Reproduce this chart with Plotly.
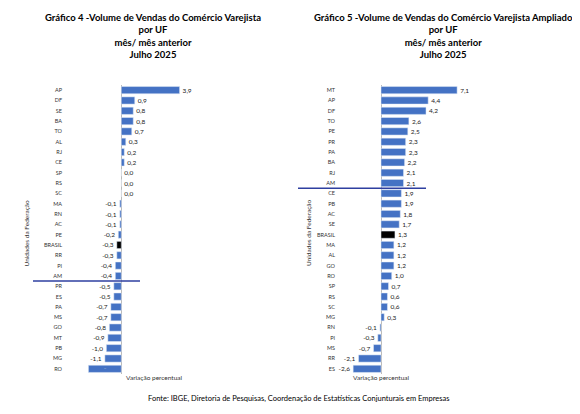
import plotly.graph_objects as go

uf4 = ["AP","DF","SE","BA","TO","AL","RJ","CE","SP","RS","SC","MA","RN","AC","PE","BRASIL","RR","PI","AM","PR","ES","PA","MS","GO","MT","PB","MG","RO"]
val4 = [3.9,0.9,0.8,0.8,0.7,0.3,0.2,0.2,0.0,0.0,0.0,-0.1,-0.1,-0.1,-0.2,-0.3,-0.3,-0.4,-0.4,-0.5,-0.5,-0.7,-0.7,-0.8,-0.9,-1.0,-1.1,-2.2]
uf5 = ["MT","AP","DF","TO","PE","PR","PA","BA","RJ","AM","CE","PB","AC","SE","BRASIL","MA","AL","GO","RO","SP","RS","SC","MG","RN","PI","MS","RR","ES"]
val5 = [7.1,4.4,4.2,2.6,2.5,2.3,2.3,2.2,2.1,2.1,1.9,1.9,1.8,1.7,1.3,1.2,1.2,1.2,1.0,0.7,0.6,0.6,0.3,-0.1,-0.3,-0.7,-2.1,-2.6]

BLUE = "#4472C4"
FONT = "Lato"

def fmt(v):
    return f"{v:.1f}".replace(".", ",")

def colors(ufs):
    return ["#000000" if u == "BRASIL" else BLUE for u in ufs]

fig = go.Figure()
pos4 = ["inside" if v <= -2 else "outside" for v in val4]
tc4 = ["#ddd" if v <= -2 else "#222" for v in val4]
fig.add_trace(go.Bar(x=val4, y=uf4, orientation="h", marker_color=colors(uf4),
                     text=[fmt(v) for v in val4], textposition=pos4,
                     textfont=dict(size=6.5, color=tc4), insidetextanchor="middle",
                     cliponaxis=False, xaxis="x", yaxis="y"))
fig.add_trace(go.Bar(x=val5, y=uf5, orientation="h", marker_color=colors(uf5),
                     text=[fmt(v) for v in val5], textposition="outside",
                     textfont=dict(size=6.5, color="#222"),
                     cliponaxis=False, xaxis="x2", yaxis="y2"))

ydom = [1 - 366/414, 1 - 77/414]
common_x = dict(showgrid=False, showticklabels=False, zeroline=True, zerolinecolor="#bbb",
                zerolinewidth=1, ticks="")
common_y = dict(showgrid=False, autorange="reversed", tickfont=dict(size=5.5, color="#333"),
                ticks="", domain=ydom)
fig.update_layout(
    width=580, height=414, margin=dict(l=0, r=0, t=0, b=0),
    plot_bgcolor="white", paper_bgcolor="white", showlegend=False,
    font=dict(family=FONT), bargap=0.3, uniformtext=dict(minsize=5),
    xaxis=dict(domain=[55/580, 200/580], range=[-3.9, 5.8], **common_x),
    yaxis=dict(anchor="x", **common_y),
    xaxis2=dict(domain=[328/580, 522/580], range=[-4.2, 13.9], **common_x),
    yaxis2=dict(anchor="x2", **common_y),
)

fig.add_shape(type="line", xref="paper", yref="y", x0=25/580, x1=132/580, y0=18.5, y1=18.5,
              line=dict(color="#2E3FA0", width=1.5))
fig.add_shape(type="line", xref="paper", yref="y2", x0=290/580, x1=418/580, y0=9.5, y1=9.5,
              line=dict(color="#2E3FA0", width=1.5))

titles = [
    (145, "Gráfico 4 -Volume de Vendas do Comércio Varejista<br>por UF<br>mês/ mês anterior<br>Julho 2025"),
    (435, "Gráfico 5 -Volume de Vendas do Comércio Varejista Ampliado<br>por UF<br>mês/ mês anterior<br>Julho 2025"),
]
for x, t in titles:
    fig.add_annotation(x=x/580, y=1 - 2/414, xref="paper", yref="paper", text="<b>"+t+"</b>",
                       showarrow=False, xanchor="center", yanchor="top",
                       font=dict(size=9.5, color="#000"), align="center")
for x, txt in [(116, "Variação percentual"), (373, "Variação percentual")]:
    fig.add_annotation(x=x/580, y=1 - 375/414, xref="paper", yref="paper", text=txt,
                       showarrow=False, font=dict(size=6.5, color="#333"))
for x in [12, 300]:
    fig.add_annotation(x=x/580, y=1 - 225/414, xref="paper", yref="paper",
                       text="Unidades da Federação", textangle=-90, showarrow=False,
                       font=dict(size=6.5, color="#333"))
fig.add_annotation(x=290/580, y=1 - 397/414, xref="paper", yref="paper",
                   text="Fonte: IBGE, Diretoria de Pesquisas, Coordenação de Estatísticas Conjunturais em Empresas",
                   showarrow=False, font=dict(size=7.5, color="#000"))

fig.write_html("out.html")
